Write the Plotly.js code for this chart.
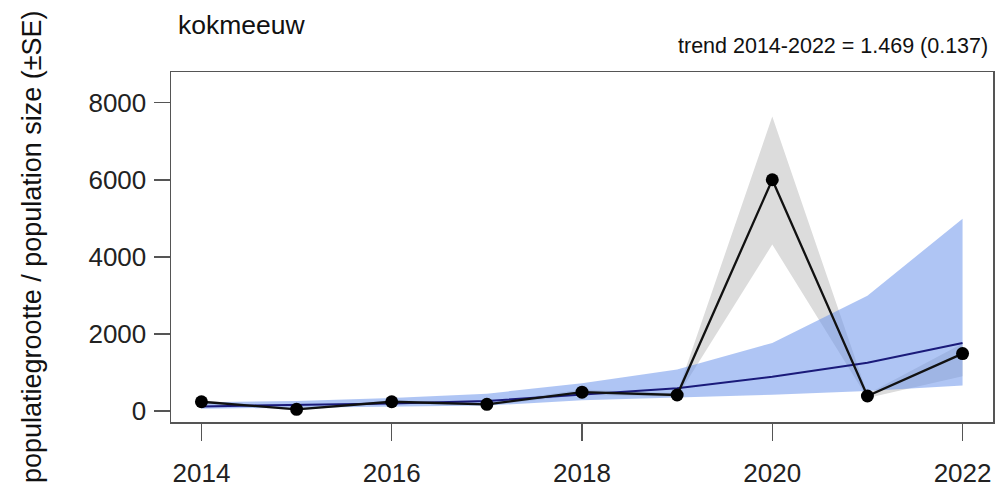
<!DOCTYPE html>
<html>
<head>
<meta charset="utf-8">
<script src="https://cdn.plot.ly/plotly-3.0.1.min.js"></script>
<style>
  html, body { margin: 0; padding: 0; background: #ffffff; }
  #chart { width: 998px; height: 492px; }
</style>
</head>
<body>
<div id="chart"></div>
<script>
// Black-headed gull (kokmeeuw) population index with standard errors,
// plus the fitted trend line and its confidence band.
const years = [2014, 2015, 2016, 2017, 2018, 2019, 2020, 2021, 2022];

// observed population size and ±SE band
const population = [241, 44, 241, 174, 490, 415, 6000, 390, 1490];
const popLower   = [200, 20, 200, 140, 420, 370, 4320, 340, 900];
const popUpper   = [280, 70, 280, 210, 560, 460, 7640, 440, 1750];

// fitted trend and its band
const trend      = [120, 150, 195, 260, 420, 590, 890, 1255, 1766];
const trendLower = [60, 80, 110, 140, 280, 350, 420, 520, 660];
const trendUpper = [230, 260, 340, 450, 720, 1080, 1766, 2990, 4990];

const xTicks = [2014, 2016, 2018, 2020, 2022];
const yTicks = [0, 2000, 4000, 6000, 8000];

const speciesName = 'kokmeeuw';
const trendLabel = 'trend 2014-2022 = 1.469 (0.137)';
const yTitle = 'populatiegrootte / population size (±SE)';

function band(lower, upper) {
  return {
    x: years.concat(years.slice().reverse()),
    y: upper.concat(lower.slice().reverse())
  };
}

const popBand = band(popLower, popUpper);
const trendBand = band(trendLower, trendUpper);

const font = 'Liberation Sans, Arial, Helvetica, sans-serif';

const traces = [
  {
    x: popBand.x, y: popBand.y,
    type: 'scatter', mode: 'lines',
    fill: 'toself', fillcolor: 'rgb(220,220,220)',
    line: { width: 0, color: 'rgba(0,0,0,0)' },
    hoverinfo: 'skip', showlegend: false
  },
  {
    x: trendBand.x, y: trendBand.y,
    type: 'scatter', mode: 'lines',
    fill: 'toself', fillcolor: 'rgba(110,150,235,0.55)',
    line: { width: 0, color: 'rgba(0,0,0,0)' },
    hoverinfo: 'skip', showlegend: false
  },
  {
    x: years, y: trend,
    type: 'scatter', mode: 'lines',
    line: { color: '#1a1a7a', width: 2 },
    showlegend: false
  },
  {
    x: years, y: population,
    type: 'scatter', mode: 'lines+markers',
    line: { color: '#111111', width: 2.3 },
    marker: { color: '#000000', size: 13 },
    showlegend: false
  }
];

const layout = {
  width: 998,
  height: 492,
  margin: { l: 171, r: 5, t: 72, b: 70 },
  paper_bgcolor: '#ffffff',
  plot_bgcolor: '#ffffff',
  font: { family: font, color: '#222222', size: 26 },
  xaxis: {
    range: [2013.68, 2022.32],
    tickvals: xTicks,
    ticktext: xTicks.map(String),
    ticks: 'outside', ticklen: 17, tickwidth: 1.5, tickcolor: '#555555',
    showline: true, mirror: true, linecolor: '#555555', linewidth: 1.5,
    showgrid: false, zeroline: false,
    tickfont: { family: font, size: 26, color: '#222222' },
    ticklabelstandoff: 10
  },
  yaxis: {
    range: [-285, 8796],
    tickvals: yTicks,
    ticktext: yTicks.map(String),
    ticks: 'outside', ticklen: 16, tickwidth: 1.5, tickcolor: '#555555',
    showline: true, mirror: true, linecolor: '#555555', linewidth: 1.5,
    showgrid: false, zeroline: false,
    tickfont: { family: font, size: 26, color: '#222222' },
    ticklabelstandoff: 2
  },
  annotations: [
    {
      text: speciesName,
      xref: 'paper', yref: 'paper',
      x: (176 - 171) / 822, y: 1 + (72 - 25) / 350,
      xanchor: 'left', yanchor: 'middle',
      showarrow: false,
      font: { family: font, size: 26.5, color: '#111111' }
    },
    {
      text: trendLabel,
      xref: 'paper', yref: 'paper',
      x: (990 - 171) / 822, y: 1 + (72 - 46) / 350,
      xanchor: 'right', yanchor: 'middle',
      showarrow: false,
      font: { family: font, size: 21.5, color: '#111111' }
    },
    {
      text: yTitle,
      xref: 'paper', yref: 'paper',
      x: (32 - 171) / 822, y: 0.5,
      xanchor: 'center', yanchor: 'middle',
      textangle: -90,
      showarrow: false,
      font: { family: font, size: 27, color: '#111111' }
    }
  ]
};

Plotly.newPlot('chart', traces, layout, { displayModeBar: false, staticPlot: true });
</script>
</body>
</html>
